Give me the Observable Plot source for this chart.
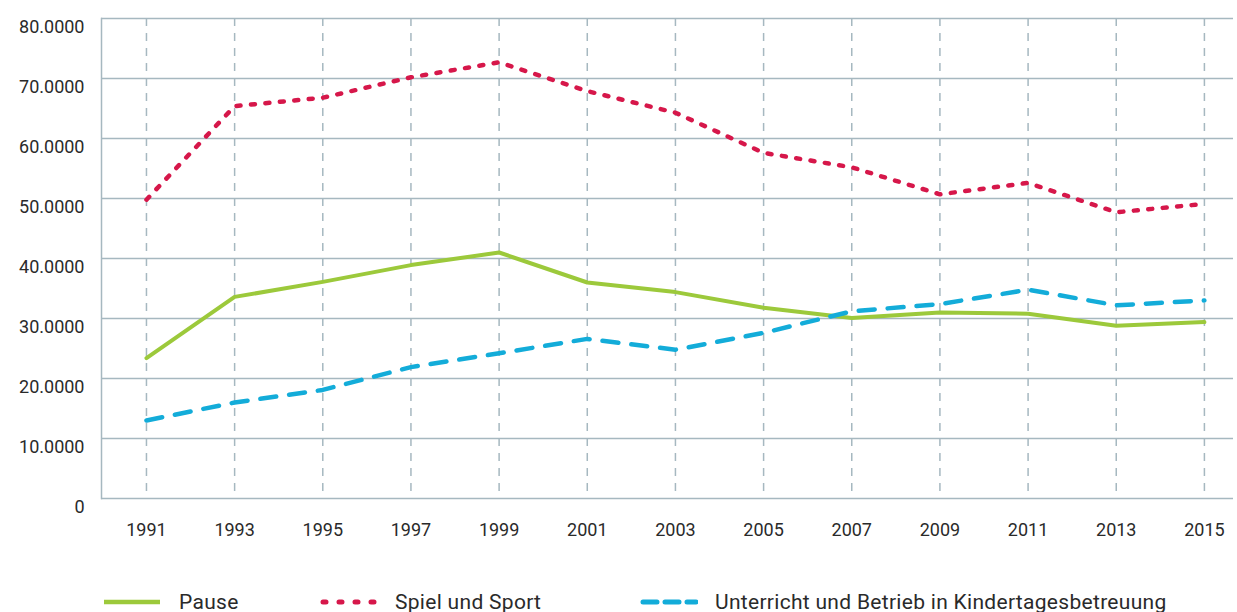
<!DOCTYPE html>
<html>
<head>
<meta charset="utf-8">
<script src="https://cdn.jsdelivr.net/npm/d3@7"></script>
<script src="https://cdn.jsdelivr.net/npm/@observablehq/plot@0.6"></script>
<style>
  body { margin: 0; background: #fff; font-family: Roboto, "Noto Sans", sans-serif; color: #2a2a2a; }
  #chart svg { display: block; }
  .legend { display: flex; align-items: center; height: 36px; padding-left: 104px; font-size: 21px; letter-spacing: 0.3px; color: #2a2a2a; }
  .legend .item { display: flex; align-items: center; white-space: nowrap; }
  .legend .item span { margin-left: 17px; }
</style>
</head>
<body>
<div id="chart"></div>
<div class="legend" id="legend"></div>
<script>
const years = [1991, 1993, 1995, 1997, 1999, 2001, 2003, 2005, 2007, 2009, 2011, 2013, 2015];
const pause = [23.4, 33.6, 36.1, 38.9, 41.0, 36.0, 34.4, 31.8, 30.1, 31.0, 30.8, 28.8, 29.4];
const spielUndSport = [49.8, 65.4, 66.8, 70.2, 72.7, 67.9, 64.3, 57.6, 55.2, 50.7, 52.6, 47.7, 49.1];
const unterricht = [13.0, 16.0, 18.1, 21.9, 24.2, 26.6, 24.8, 27.6, 31.2, 32.4, 34.8, 32.2, 33.0];
const yTicks = [0, 10, 20, 30, 40, 50, 60, 70, 80];
const seriesNames = ["Pause", "Spiel und Sport", "Unterricht und Betrieb in Kindertagesbetreuung"];
const seriesColors = ["#9cc93b", "#d6174a", "#13acd9"];
const seriesDash = [null, "4,10.5", "16,13"];

const toRows = (vals) => years.map((y, i) => ({year: y, value: vals[i]}));
const gridColor = "#a6b8c0";

const plot = Plot.plot({
  width: 1237,
  height: 584,
  marginTop: 18,
  marginBottom: 86,
  marginLeft: 101,
  marginRight: 4,
  style: {fontFamily: "Roboto, 'Noto Sans', sans-serif", fontSize: "18px", color: "#2a2a2a", background: "#fff"},
  x: {type: "linear", domain: [1989.98, 2015.66]},
  y: {domain: [0, 80]},
  marks: [
    Plot.gridY(yTicks, {stroke: gridColor, strokeOpacity: 1, strokeWidth: 1.5}),
    Plot.gridX(years, {stroke: gridColor, strokeOpacity: 1, strokeWidth: 1.5, strokeDasharray: "8,7"}),
    Plot.frame({anchor: "left", stroke: gridColor, strokeWidth: 1.5}),
    Plot.axisY(yTicks, {tickSize: 0, tickPadding: 17, dy: 9, fontSize: 18,
      tickFormat: d => d === 0 ? "0" : d.toFixed(4), label: null}),
    Plot.axisX(years, {tickSize: 0, tickPadding: 25, fontSize: 18, tickFormat: d => String(d), label: null}),
    Plot.line(toRows(pause), {x: "year", y: "value", stroke: seriesColors[0], strokeWidth: 4}),
    Plot.line(toRows(unterricht), {x: "year", y: "value", stroke: seriesColors[2], strokeWidth: 4.5,
      strokeDasharray: seriesDash[2], strokeLinecap: "round"}),
    Plot.line(toRows(spielUndSport), {x: "year", y: "value", stroke: seriesColors[1], strokeWidth: 4.5,
      strokeDasharray: seriesDash[1], strokeLinecap: "round"})
  ]
});
document.getElementById("chart").appendChild(plot);

const legend = document.getElementById("legend");
const itemWidths = [216, 320, null];
const legendDash = [null, "3,13", "14,8"];
seriesNames.forEach((name, i) => {
  const item = document.createElement("div");
  item.className = "item";
  if (itemWidths[i]) item.style.width = itemWidths[i] + "px";
  const dash = legendDash[i] ? `stroke-dasharray="${legendDash[i]}" stroke-linecap="round"` : "";
  item.innerHTML = `<svg width="58" height="10"><line x1="${legendDash[i] ? 3 : 0}" y1="5" x2="56" y2="5" stroke="${seriesColors[i]}" stroke-width="${legendDash[i] ? 5 : 4.5}" ${dash}/></svg><span>${name}</span>`;
  legend.appendChild(item);
});
</script>
</body>
</html>
